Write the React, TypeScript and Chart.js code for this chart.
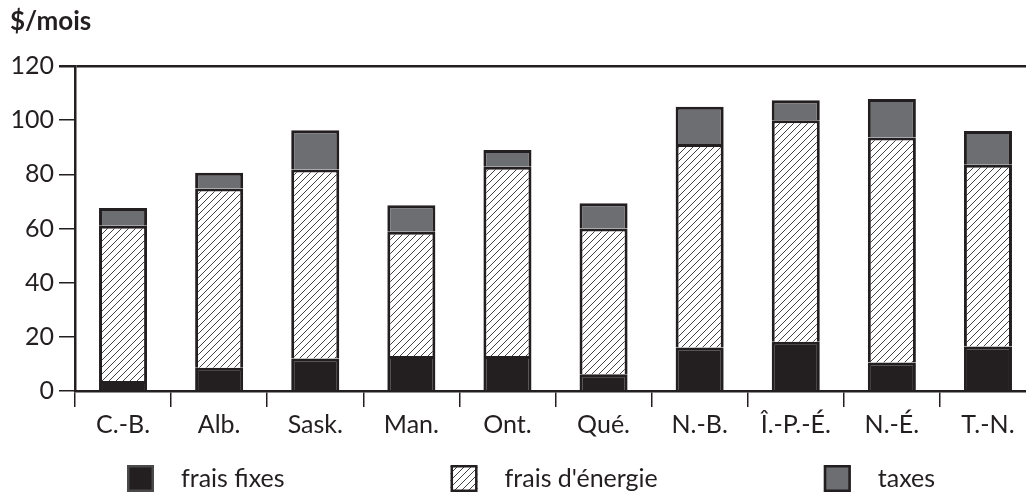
import React, { useEffect, useRef } from "react";
import { Chart, registerables } from "chart.js";

Chart.register(...registerables);

const categories = ["C.-B.", "Alb.", "Sask.", "Man.", "Ont.", "Qué.", "N.-B.", "Î.-P.-É.", "N.-É.", "T.-N."];
const fraisFixes = [3.7, 8.6, 12, 12.9, 12.9, 6.2, 16.1, 18.2, 10.5, 16.4];
const fraisEnergie = [57.3, 66.2, 69.8, 45.9, 69.9, 53.8, 75.1, 81.8, 83.1, 67.1];
const taxes = [6.6, 5.8, 14.5, 9.8, 6.2, 9.3, 13.8, 7.4, 14.2, 12.5];
const seriesLabels = ["frais fixes", "frais d'énergie", "taxes"];
const yTicks = [0, 20, 40, 60, 80, 100, 120];
const yTitle = "$/mois";

const INK = "#231f20";
const GREY = "#6d6e71";
const FONT = "Lato, 'Open Sans', sans-serif";

function makeHatch(): CanvasPattern | string {
  const tile = document.createElement("canvas");
  tile.width = 7;
  tile.height = 7;
  const c = tile.getContext("2d");
  if (!c) return "#fff";
  c.fillStyle = "#ffffff";
  c.fillRect(0, 0, 7, 7);
  c.strokeStyle = "#2e2e2e";
  c.lineWidth = 0.9;
  c.beginPath();
  c.moveTo(-1, 8);
  c.lineTo(8, -1);
  c.moveTo(-2, 2);
  c.lineTo(2, -2);
  c.moveTo(5, 9);
  c.lineTo(9, 5);
  c.stroke();
  const p = c.createPattern(tile, "repeat");
  return p || "#fff";
}

export default function App() {
  const ref = useRef<HTMLCanvasElement | null>(null);

  useEffect(() => {
    if (!ref.current) return;
    const hatch = makeHatch();
    const fills = [INK, hatch, GREY];
    const borders = ["#4a4a4a", INK, INK];

    const legendPlugin = {
      id: "customLegend",
      afterDraw(chart: any) {
        const ctx = chart.ctx;
        ctx.save();
        ctx.font = `25px ${FONT}`;
        ctx.textBaseline = "middle";
        ctx.textAlign = "left";
        let x = 127;
        const y = 465;
        const box = 27;
        seriesLabels.forEach((label, i) => {
          ctx.fillStyle = fills[i];
          ctx.fillRect(x, y, box, box);
          ctx.lineWidth = 2.5;
          ctx.strokeStyle = borders[i];
          ctx.strokeRect(x + 1.25, y + 1.25, box - 2.5, box - 2.5);
          ctx.fillStyle = INK;
          const tx = x + box + 27;
          ctx.fillText(label, tx, y + box / 2);
          const w = ctx.measureText(label).width;
          x = tx + w + 166;
        });
        ctx.restore();
      },
    };

    const ds = (label: string, data: number[], i: number) => ({
      label,
      data,
      backgroundColor: fills[i],
      borderColor: INK,
      borderWidth: 3,
      barPercentage: 0.5,
      categoryPercentage: 1,
    });

    const chart = new Chart(ref.current, {
      type: "bar",
      data: {
        labels: categories,
        datasets: [
          ds(seriesLabels[0], fraisFixes, 0),
          ds(seriesLabels[1], fraisEnergie, 1),
          ds(seriesLabels[2], taxes, 2),
        ],
      },
      options: {
        animation: false,
        responsive: false,
        devicePixelRatio: 1,
        layout: { padding: { left: 10, right: 4, top: 0, bottom: 43 } },
        plugins: {
          legend: { display: false },
          tooltip: { enabled: false },
          title: {
            display: true,
            text: yTitle,
            align: "start",
            color: INK,
            font: { family: FONT, size: 26, weight: "bold" },
            padding: { top: 6, bottom: 28.8 },
          },
        },
        scales: {
          x: {
            stacked: true,
            afterFit: (s: any) => {
              s.height = 60;
            },
            grid: {
              offset: true,
              drawOnChartArea: false,
              drawTicks: true,
              tickLength: 16,
              color: INK,
              lineWidth: 1.5,
            },
            border: { display: true, color: INK, width: 2.5 },
            ticks: {
              color: INK,
              padding: 3,
              font: { family: FONT, size: 25 },
              maxRotation: 0,
              autoSkip: false,
            },
          },
          y: {
            stacked: true,
            min: yTicks[0],
            max: yTicks[yTicks.length - 1],
            afterFit: (s: any) => {
              s.width = 65;
            },
            afterBuildTicks: (s: any) => {
              s.ticks = yTicks.map((v) => ({ value: v }));
            },
            grid: {
              drawOnChartArea: true,
              drawTicks: true,
              tickLength: 16,
              color: (c: any) => (c.tick && c.tick.value === 120 ? INK : "rgba(0,0,0,0)"),
              tickColor: INK,
              lineWidth: (c: any) => (c.tick && c.tick.value === 120 ? 2.5 : 1.5),
            },
            border: { display: true, color: INK, width: 2.5 },
            ticks: {
              color: INK,
              padding: 5,
              font: { family: FONT, size: 25 },
            },
          },
        },
      },
      plugins: [legendPlugin],
    });

    return () => chart.destroy();
  }, []);

  return (
    <div
      style={{
        position: "fixed",
        left: 0,
        top: 0,
        width: 1026,
        height: 494,
        overflow: "hidden",
        background: "#ffffff",
      }}
    >
      <canvas ref={ref} width={1040} height={494} style={{ display: "block", width: 1040, height: 494 }} />
    </div>
  );
}
